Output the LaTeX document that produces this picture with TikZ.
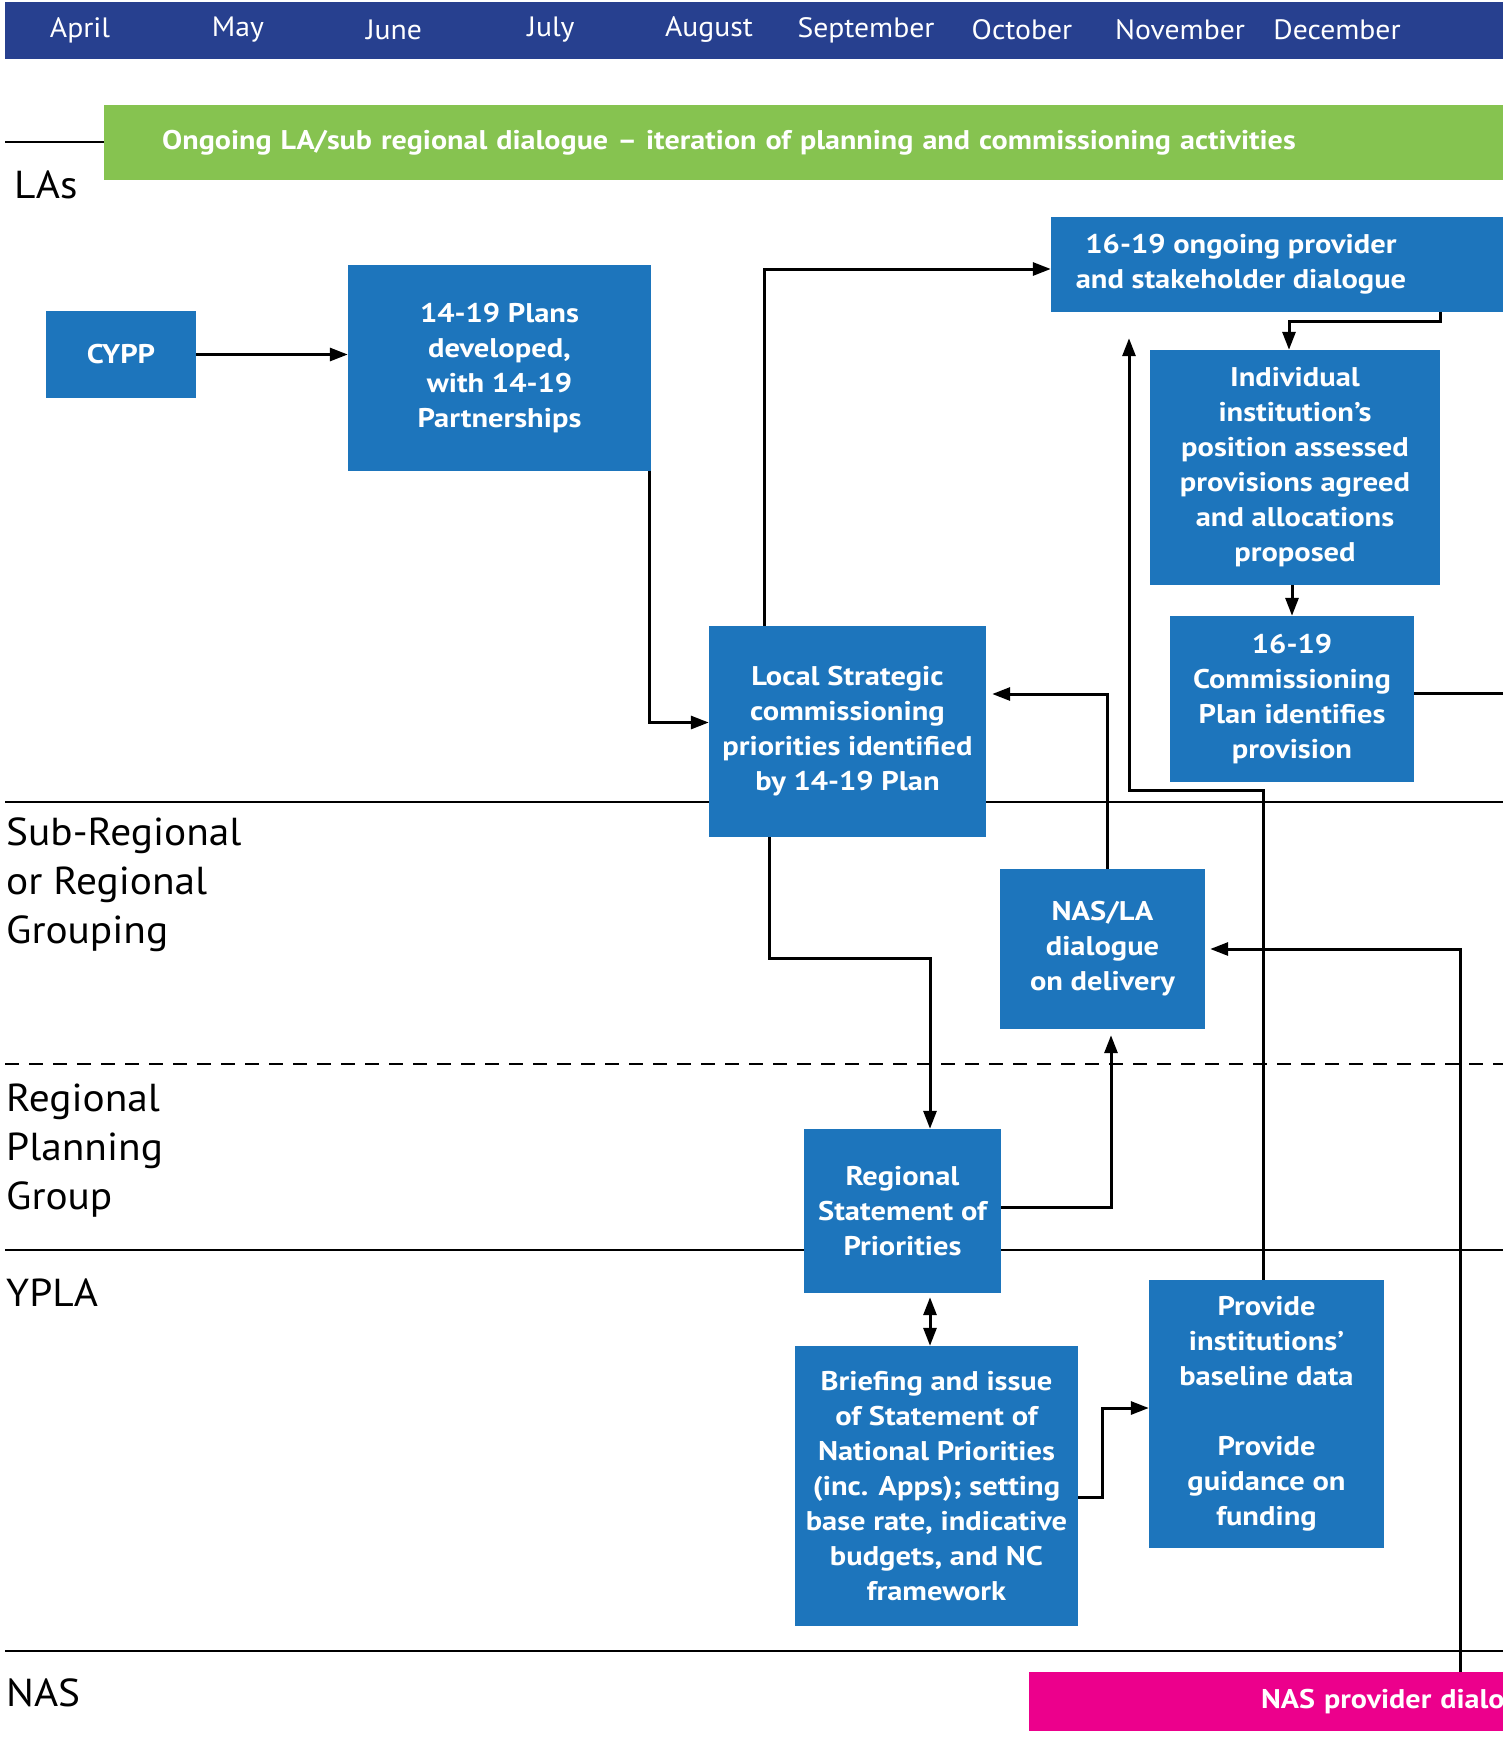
\documentclass[tikz,border=0pt]{standalone}
\usepackage{fontspec}
\setmainfont{PT Sans}[FakeStretch=1.06]
\newfontfamily\bxfam{PT Sans}[FakeStretch=1.13]
\newfontfamily\barfam{PT Sans}[FakeStretch=1.115]
\usetikzlibrary{arrows.meta}
\definecolor{hdr}{RGB}{39,64,143}
\definecolor{lsc}{RGB}{29,117,188}
\definecolor{grn}{RGB}{134,195,80}
\definecolor{nasc}{RGB}{236,0,140}
\newcommand\bxfont{\bxfam\fontsize{27}{35}\selectfont\bfseries}
\newcommand\lanefont{\fontsize{39}{49}\selectfont}
\newcommand\monfont{\fontsize{28}{34}\selectfont}
\newcommand\barfont{\barfam\fontsize{27}{34}\selectfont\bfseries}
\begin{document}
\begin{tikzpicture}[x=1pt,y=-1pt]
 \tikzset{blk/.style={fill=lsc, text=white, font=\bxfont, align=center, inner sep=0pt},
  bar/.style={text=white, font=\barfont, anchor=west, inner ysep=0pt, align=left},
  lane/.style={font=\lanefont, align=left, anchor=west, inner sep=0pt},
  directed/.style={line width=3pt, -{Triangle[length=18pt,width=13pt]}},
  sepline/.style={line width=2.5pt}}
  \useasboundingbox (0,0) rectangle (1503,1741);
  \clip (0,0) rectangle (1503,1741);
  % lanes
  \draw[sepline] (5,142) -- (1503,142);
  \draw[sepline] (5,802) -- (1503,802);
  \draw[sepline, dash pattern=on 14pt off 10pt] (5,1064) -- (1503,1064);
  \draw[sepline] (5,1250) -- (1503,1250);
  \draw[sepline] (5,1651) -- (1503,1651);
  \node[lane] (LA) at (14,185) {LAs};
  \node[lane] (SR) at (6,885) {Sub-Regional\\or Regional\\Grouping};
  \node[lane] (RP) at (6,1151) {Regional\\Planning\\Group};
  \node[lane] (YP) at (6,1293) {YPLA};
  \node[lane] (NS) at (6,1693) {NAS};
  % months
  \node[fill=hdr, anchor=north west, minimum width=1510pt, minimum height=57pt, inner sep=0pt] (HD) at (5,2) {};
  \foreach \m/\x in {April/80,May/238,June/394,July/551,August/709,September/866,October/1022,November/1180,December/1337}
    \node[text=white, font=\monfont] (\m) at (\x,30) {\m};
  % bars
  \node[bar, fill=grn, inner xsep=58pt, minimum height=75pt, text width=1400pt] (GR) at (104,142.5)
    {Ongoing LA/sub regional dialogue – iteration of planning and commissioning activities};
  \node[bar, fill=nasc, inner xsep=232pt, minimum height=59pt, text width=450pt] (NB) at (1029,1701.5)
    {NAS provider dialogue};
  % boxes
  \node[blk, minimum width=150pt, minimum height=87pt] (CY) at (121,354.5) {CYPP};
  \node[blk, minimum width=303pt, minimum height=206pt] (PL) at (499.5,368) {14-19 Plans\\developed,\\with 14-19\\Partnerships};
  \node[blk, minimum width=380pt, minimum height=95pt] (OD) at (1241,264.5) {16-19 ongoing provider\\and stakeholder dialogue};
  \fill[lsc] (OD.north east) rectangle ([xshift=120pt]OD.south east);
  \node[blk, minimum width=290pt, minimum height=235pt] (IA) at (1295,467.5) {Individual\\institution’s\\position assessed\\provisions agreed\\and allocations\\proposed};
  \node[blk, minimum width=244pt, minimum height=166pt] (CP) at (1292,699) {16-19\\Commissioning\\Plan identifies\\provision};
  \node[blk, minimum width=277pt, minimum height=211pt] (LS) at (847.5,731.5) {Local Strategic\\commissioning\\priorities identified\\by 14-19 Plan};
  \node[blk, minimum width=205pt, minimum height=160pt] (ND) at (1102.5,949) {NAS/LA\\dialogue\\on delivery};
  \node[blk, minimum width=197pt, minimum height=164pt] (RS) at (902.5,1211) {Regional\\Statement of\\Priorities};
  \node[blk, minimum width=283pt, minimum height=280pt] (BR) at (936.5,1486) {Briefing and issue\\of Statement of\\National Priorities\\(inc. Apps); setting\\base rate, indicative\\budgets, and NC\\framework};
  \node[blk, minimum width=235pt, minimum height=268pt] (PD) at (1266.5,1414) {Provide\\institutions’\\baseline data\\[35pt]Provide\\guidance on\\funding};
  \coordinate (CO) at (1510,693.7);
  % flows
  \draw[directed] (CY.east) -- (CY.east -| PL.west);
  \draw[directed] ([xshift=-2pt]PL.south east) |- ([yshift=9pt]LS.west);
  \draw[directed] ([xshift=-83.5pt]LS.north) |- ([yshift=-4.5pt]OD.west);
  \draw[directed] ([xshift=199pt]OD.south) -- ++(0,9) -| ([xshift=-6pt]IA.north);
  \draw[directed] (IA.south -| CP.north) -- (CP.north);
  \draw[line width=3pt] (CP.east |- CO) -- (CO);
  \draw[directed, shorten >=6pt] ([xshift=4.5pt]ND.north) |- ([yshift=37.5pt]LS.east);
  \draw[directed] ([xshift=-78.5pt]LS.south) -- ++(0,121) -| ([xshift=27.5pt]RS.north);
  \draw[directed, shorten >=6pt] ([yshift=4pt]RS.east) -| ([xshift=8.5pt]ND.south);
  \draw[line width=3pt, {Triangle[length=18pt,width=13pt]}-{Triangle[length=18pt,width=13pt]}, shorten <=4pt]
    ([xshift=27.5pt]RS.south) -- ([xshift=27.5pt]RS.south |- BR.north);
  \draw[directed] ([yshift=-11pt]BR.east) -- ++(24,0) |- ([yshift=6pt]PD.west);
  \draw[directed, shorten >=26pt] ([xshift=-3pt]PD.north) -- ++(0,-489) -| ([xshift=-112pt]OD.south);
  \draw[directed, shorten >=5pt] ([xshift=431pt]NB.north west) |- (ND.east);
\end{tikzpicture}
\end{document}
